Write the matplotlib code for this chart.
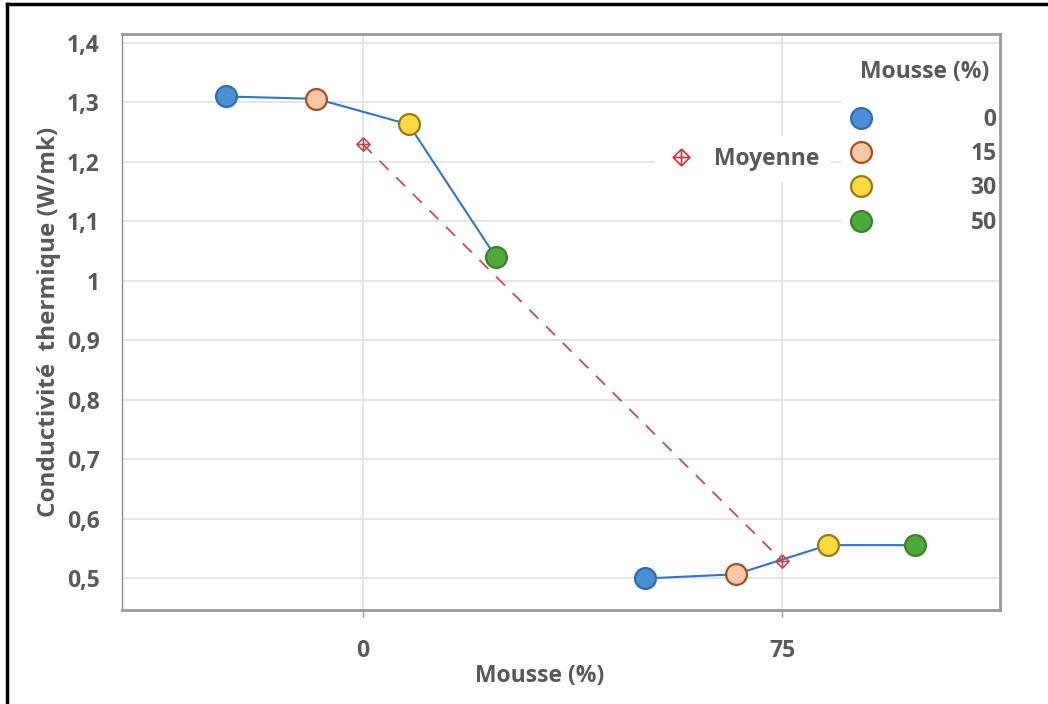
import matplotlib
matplotlib.use("Agg")
import matplotlib.pyplot as plt
from matplotlib.path import Path
from matplotlib.lines import Line2D
import numpy as np

plt.rcParams['font.family'] = ['Open Sans', 'DejaVu Sans']

# data
groups = [0, 75]                      # Mousse (%) on x axis
levels = ['0', '15', '30', '50']      # legend levels
offsets = [-24.5, -8.3, 8.2, 23.8]    # horizontal dodge of each level
values = {
    0: [1.31, 1.306, 1.263, 1.04],
    75: [0.50, 0.507, 0.556, 0.556],
}
means = [np.mean(values[g]) for g in groups]

ytick_vals = [0.5, 0.6, 0.7, 0.8, 0.9, 1.0, 1.1, 1.2, 1.3, 1.4]
ytick_labels = ['0,5', '0,6', '0,7', '0,8', '0,9', '1', '1,1', '1,2', '1,3', '1,4']

fills = ['#4a90d6', '#f9c6a6', '#fcd93e', '#4eaa38']
edges = ['#2f6db0', '#a4501c', '#9a7a0c', '#3c8030']
txt = '#595959'

# diamond with a cross inside
diam = Path([(0, 1), (1, 0), (0, -1), (-1, 0), (0, 1), (0, 1), (0, -1), (-1, 0), (1, 0)],
            [Path.MOVETO, Path.LINETO, Path.LINETO, Path.LINETO, Path.LINETO,
             Path.MOVETO, Path.LINETO, Path.MOVETO, Path.LINETO])

fig = plt.figure(figsize=(10.48, 7.04), dpi=100)
ax = fig.add_axes([122 / 1048, 1 - 610 / 704, 878 / 1048, 576 / 704])

ax.set_xlim(-43.1, 114)
ax.set_ylim(0.447, 1.415)

ax.set_yticks(ytick_vals)
ax.set_yticklabels(ytick_labels)
ax.set_xticks(groups)
ax.set_xticklabels([str(g) for g in groups])
ax.grid(True, color='#e3e3e3', linewidth=1.3)
ax.set_axisbelow(True)

for s in ['top', 'right', 'bottom']:
    ax.spines[s].set_color('#9a9a9a')
    ax.spines[s].set_linewidth(2)
ax.spines['left'].set_color('#8a8a8a')
ax.spines['left'].set_linewidth(1)

ax.tick_params(axis='y', length=0, pad=16, labelsize=16.5, labelcolor=txt)
ax.tick_params(axis='x', length=5, width=1, color='#9a9a9a', pad=16,
               labelsize=16.5, labelcolor=txt)
for lab in ax.get_xticklabels() + ax.get_yticklabels():
    lab.set_fontweight('bold')

# blue connecting lines inside each group
for g in groups:
    xs = [g + o for o in offsets]
    ax.plot(xs, values[g], color='#2f75cc', linewidth=1.5, zorder=3)

# mean line
ax.plot(groups, means, color='#c0504d', linewidth=1.3, dashes=(7, 6), zorder=2)
ax.plot(groups, means, linestyle='none', marker=diam, markersize=9.5,
        markerfacecolor='none', markeredgecolor='#c0504d', markeredgewidth=1.2, zorder=4)

# points
for i, lev in enumerate(levels):
    xs = [g + offsets[i] for g in groups]
    ys = [values[g][i] for g in groups]
    ax.plot(xs, ys, linestyle='none', marker='o', markersize=15,
            markerfacecolor=fills[i], markeredgecolor=edges[i], markeredgewidth=1.6,
            zorder=5)

ax.set_ylabel('Conductivité  thermique (W/mk)', fontsize=17.5, fontweight='bold', color=txt)
ax.yaxis.set_label_coords(-0.069, 0.5)
ax.set_xlabel('Mousse (%)', fontsize=16.5, fontweight='bold', color=txt)
ax.xaxis.set_label_coords(0.476, -0.094)

# legend for foam levels
handles = [Line2D([], [], linestyle='none', marker='o', markersize=15,
                  markerfacecolor=fills[i], markeredgecolor=edges[i], markeredgewidth=1.6)
           for i in range(len(levels))]
labels = [lev if len(lev) == 2 else '\u2007' + lev for lev in levels]
leg = ax.legend(handles, labels, loc='upper right',
                bbox_to_anchor=(1.004, 0.8837), borderaxespad=0, frameon=True,
                facecolor='white', edgecolor='none', framealpha=1, fancybox=False,
                prop={'size': 16.5, 'weight': 'bold'}, labelspacing=0.45,
                handlelength=1.22, handletextpad=4.15, borderpad=0.3)
for t in leg.get_texts():
    t.set_color(txt)
leg.set_zorder(2.2)
ax.add_artist(leg)
ax.text(0.9146, 0.934, 'Mousse (%)', transform=ax.transAxes, ha='center', va='center',
        fontsize=16.5, fontweight='bold', color=txt, zorder=7)

# legend for the mean
mh = Line2D([], [], linestyle='none', marker=diam, markersize=12,
            markerfacecolor='none', markeredgecolor='#e03030', markeredgewidth=1.2)
leg2 = ax.legend([mh], ['Moyenne'], loc='center', bbox_to_anchor=(0.7073, 0.783),
                 frameon=True, facecolor='white', edgecolor='none', framealpha=1,
                 fancybox=False, prop={'size': 16.5, 'weight': 'bold'},
                 handlelength=1.2, handletextpad=0.85, borderpad=0.5)
for t in leg2.get_texts():
    t.set_color(txt)
leg2.set_zorder(2.2)

# outer frame (left and top edges visible)
fig.add_artist(Line2D([7 / 1048, 7 / 1048], [0, 1 - 4 / 704], color='black',
                      linewidth=2.5, transform=fig.transFigure))
fig.add_artist(Line2D([7 / 1048, 1], [1 - 4 / 704, 1 - 4 / 704], color='black',
                      linewidth=2.5, transform=fig.transFigure))

fig.savefig('out.png', dpi=100)
